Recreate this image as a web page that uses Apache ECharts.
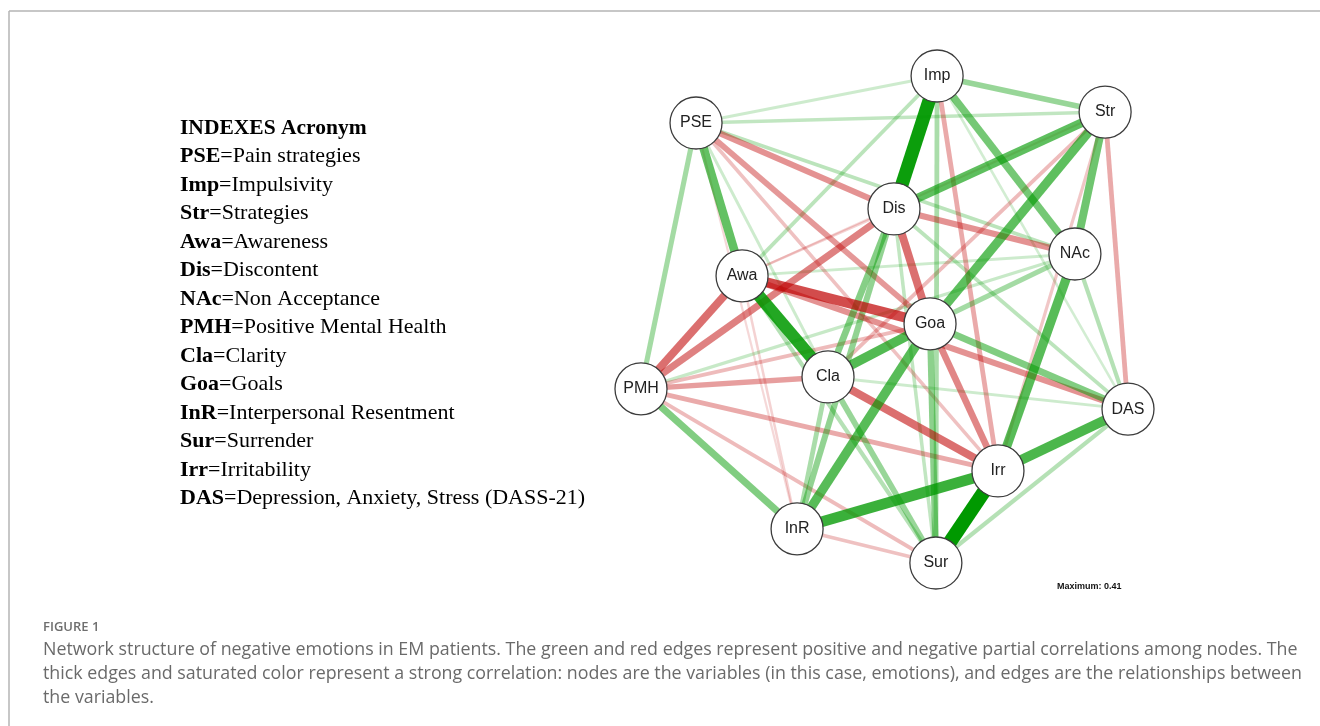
<!DOCTYPE html>
<html><head><meta charset="utf-8">
<script src="https://cdn.jsdelivr.net/npm/echarts@6/dist/echarts.min.js"></script>
<style>html,body{margin:0;padding:0;background:#fff}#c{width:1320px;height:726px}</style>
</head><body><div id="c"></div>
<script>
// ---- data ----
const nodeNames = ['PSE','Imp','Str','Awa','Dis','NAc','PMH','Cla','Goa','InR','Sur','Irr','DAS'];
// layout coordinates (qgraph-style, scaled to [-1, 1])
const layoutX = [-0.774, 0.216, 0.906, -0.585, 0.039, 0.782, -1.0, -0.232, 0.187, -0.359, 0.211, 0.466, 1.0];
const layoutY = [0.807, 1.0, 0.852, 0.179, 0.454, 0.269, -0.285, -0.236, -0.018, -0.860, -1.0, -0.622, -0.368];
// partial correlations [node, node, weight]
const edges = [
  ['Irr','Sur',0.41], ['Imp','Dis',0.39], ['Awa','Cla',0.35], ['InR','Irr',0.31],
  ['Irr','DAS',0.28], ['Goa','Cla',0.27], ['Goa','InR',0.26], ['NAc','Irr',0.26],
  ['Str','Dis',0.25], ['Str','Goa',0.25], ['PSE','Awa',0.24], ['Str','NAc',0.22],
  ['Imp','NAc',0.21], ['PMH','InR',0.19], ['Goa','DAS',0.19], ['Dis','Cla',0.18],
  ['Goa','Sur',0.17], ['Dis','InR',0.16], ['Cla','Sur',0.15], ['Imp','Str',0.15],
  ['Goa','NAc',0.13], ['PSE','PMH',0.13], ['Imp','Sur',0.12], ['Cla','InR',0.12],
  ['Awa','Sur',0.10], ['DAS','Sur',0.10], ['NAc','DAS',0.10], ['Dis','DAS',0.09],
  ['PSE','NAc',0.09], ['PSE','Str',0.08], ['Imp','Awa',0.09], ['Dis','Sur',0.08],
  ['PMH','NAc',0.07], ['Cla','DAS',0.06], ['Awa','NAc',0.06], ['PSE','Imp',0.06],
  ['Imp','DAS',0.05], ['PSE','Cla',0.06],
  ['Awa','Goa',-0.28], ['Dis','Goa',-0.22], ['Cla','Irr',-0.22], ['PMH','Awa',-0.22],
  ['PMH','Dis',-0.19], ['Goa','Irr',-0.18], ['Awa','DAS',-0.16], ['PSE','Dis',-0.16],
  ['PSE','Goa',-0.15], ['Dis','NAc',-0.16], ['PMH','Cla',-0.14], ['PMH','Irr',-0.12],
  ['Imp','Irr',-0.12], ['Str','DAS',-0.12], ['Str','Cla',-0.09], ['PMH','Goa',-0.09],
  ['PMH','Sur',-0.09], ['InR','Sur',-0.08], ['PSE','Irr',-0.08], ['Str','Irr',-0.07],
  ['Awa','InR',-0.05], ['PSE','InR',-0.04], ['Awa','Dis',-0.05], ['Str','Awa',-0.04]
];
const maxWeight = 0.41;
const acronyms = ['PSE','Imp','Str','Awa','Dis','NAc','PMH','Cla','Goa','InR','Sur','Irr','DAS'];
const meanings = ['Pain strategies','Impulsivity','Strategies','Awareness','Discontent','Non Acceptance',
  'Positive Mental Health','Clarity','Goals','Interpersonal Resentment','Surrender','Irritability',
  'Depression, Anxiety, Stress (DASS-21)'];
const legendTitle = 'INDEXES Acronym';
const figLabel = 'FIGURE 1';
const captionLines = [
  'Network structure of negative emotions in EM patients. The green and red edges represent positive and negative partial correlations among nodes. The',
  'thick edges and saturated color represent a strong correlation: nodes are the variables (in this case, emotions), and edges are the relationships between',
  'the variables.'
];

// ---- chart ----
const chart = echarts.init(document.getElementById('c'), null, {renderer: 'canvas'});
const links = edges.slice().sort((a, b) => Math.abs(a[2]) - Math.abs(b[2])).map(e => {
  const r = Math.abs(e[2]) / maxWeight;
  return {
    source: e[0], target: e[1], value: e[2],
    lineStyle: {color: e[2] > 0 ? '#009900' : '#BF0000', width: 1 + 13 * r,
      opacity: Math.min(1, 0.06 + 0.94 * r), curveness: 0}
  };
});
const nodes = nodeNames.map((n, i) => ({name: n, value: [layoutX[i], layoutY[i]]}));

// fit caption font so the first line spans the caption width
const capFont = '"Open Sans"';
const cv = document.createElement('canvas').getContext('2d');
cv.font = '17px ' + capFont;
const capSize = Math.max(15, Math.min(19, 17 * 1255 / cv.measureText(captionLines[0]).width));

const graphic = [
  {type: 'line', shape: {x1: 9, y1: 11, x2: 1320, y2: 11}, style: {stroke: '#b5b5b5', lineWidth: 1.5}},
  {type: 'line', shape: {x1: 9, y1: 11, x2: 9, y2: 726}, style: {stroke: '#b5b5b5', lineWidth: 1.5}},
  {type: 'text', left: 180, top: 117, style: {text: legendTitle, font: 'bold 21.5px "Liberation Serif"', fill: '#000'}}
];
acronyms.forEach((a, i) => {
  graphic.push({type: 'text', left: 180, top: 145.5 + 28.5 * i,
    style: {text: '{b|' + a + '}{r|=' + meanings[i] + '}', fill: '#000',
      rich: {b: {fontFamily: 'Liberation Serif', fontWeight: 'bold', fontSize: 22, fill: '#000'},
             r: {fontFamily: 'Liberation Serif', fontSize: 22, fill: '#000'}}}});
});
graphic.push({type: 'text', left: 1057, top: 582, style: {text: 'Maximum: 0.41', font: 'bold 9px "Liberation Sans"', fill: '#111'}});
graphic.push({type: 'text', left: 43, top: 621, style: {text: figLabel, font: '600 13px "Open Sans"', fill: '#6e6e6e'}});
captionLines.forEach((t, i) => {
  graphic.push({type: 'text', left: 43, top: 641 + 24 * i, style: {text: t, font: capSize.toFixed(2) + 'px ' + capFont, fill: '#6a6a6a'}});
});

chart.setOption({
  animation: false,
  grid: {left: 641, top: 76, width: 487, height: 487},
  xAxis: {type: 'value', min: -1, max: 1, show: false},
  yAxis: {type: 'value', min: -1, max: 1, show: false},
  graphic: graphic,
  series: [{
    type: 'graph', coordinateSystem: 'cartesian2d', layout: 'none',
    data: nodes, links: links,
    symbol: 'circle', symbolSize: 52,
    itemStyle: {color: '#fff', borderColor: '#3c3c3c', borderWidth: 1.3},
    label: {show: true, position: 'inside', fontFamily: 'Liberation Sans', fontSize: 16, color: '#222'},
    emphasis: {disabled: true}, silent: true
  }]
});
</script></body></html>
